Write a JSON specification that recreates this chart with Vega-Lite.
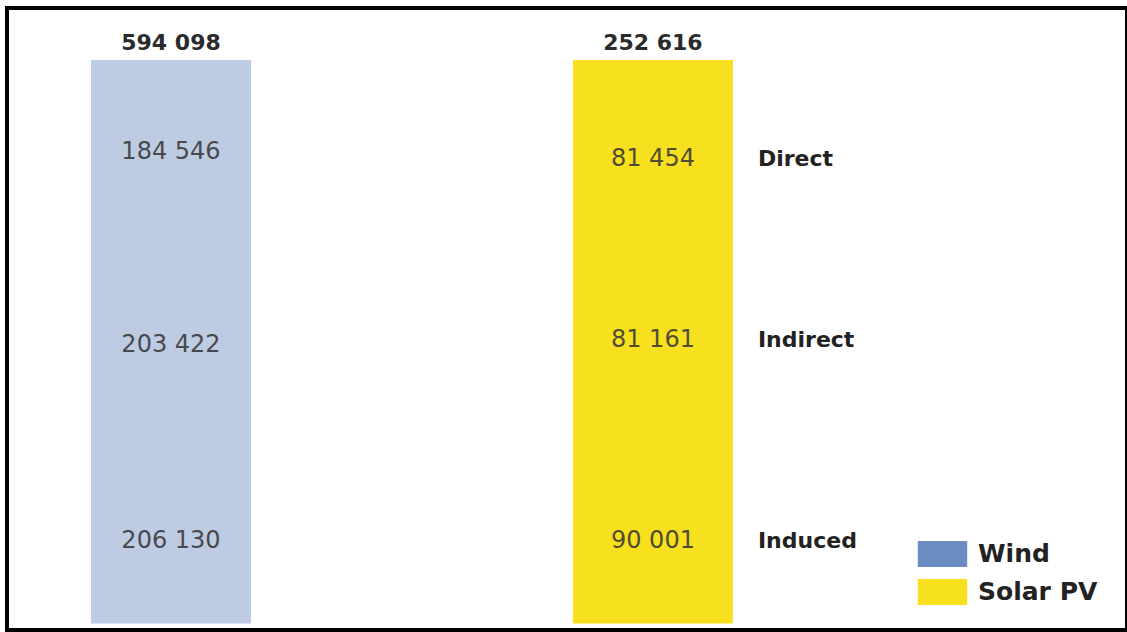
{
  "$schema": "https://vega.github.io/schema/vega-lite/v6.json",
  "width": 1120,
  "height": 622,
  "autosize": "none",
  "padding": {"left": 7, "top": 8, "right": 0, "bottom": 2},
  "background": "white",
  "config": {
    "view": {"stroke": "#000", "strokeWidth": 4},
    "font": "DejaVu Sans"
  },
  "data": {
    "values": [
      {"source": "Wind", "type": "Direct", "jobs": 184546},
      {"source": "Wind", "type": "Indirect", "jobs": 203422},
      {"source": "Wind", "type": "Induced", "jobs": 206130},
      {"source": "Solar PV", "type": "Direct", "jobs": 81454},
      {"source": "Solar PV", "type": "Indirect", "jobs": 81161},
      {"source": "Solar PV", "type": "Induced", "jobs": 90001}
    ]
  },
  "encoding": {
    "x": {
      "field": "source",
      "type": "nominal",
      "sort": ["Wind", "Solar PV"],
      "axis": null,
      "scale": {"paddingInner": 0.668, "paddingOuter": 0.496, "align": 0.1757}
    }
  },
  "layer": [
    {
      "transform": [
        {"aggregate": [{"op": "sum", "field": "jobs", "as": "total"}], "groupby": ["source"]},
        {"stack": "total", "groupby": ["source"], "offset": "normalize", "as": ["b0", "b1"]}
      ],
      "mark": {"type": "bar"},
      "encoding": {
        "y": {
          "field": "b0",
          "type": "quantitative",
          "axis": null,
          "scale": {"domain": [-0.0115, 1.0923], "nice": false, "zero": false}
        },
        "y2": {"field": "b1"},
        "color": {
          "field": "source",
          "type": "nominal",
          "scale": {"domain": ["Wind", "Solar PV"], "range": ["#6b8cc0", "#f7e11e"]},
          "legend": {
            "title": null,
            "orient": "none",
            "legendX": 922.5,
            "legendY": 533,
            "padding": 0,
            "symbolType": "M-1.9,-1H1.9V1H-1.9Z",
            "symbolSize": 676,
            "symbolStrokeWidth": 0,
            "labelOffset": 22.5,
            "rowPadding": 12,
            "labelFont": "DejaVu Sans",
            "labelFontWeight": "bold",
            "labelFontSize": 25,
            "labelColor": "#222"
          }
        },
        "opacity": {"condition": {"test": "datum.source === 'Wind'", "value": 0.44}, "value": 1}
      }
    },
    {
      "transform": [
        {"stack": "jobs", "groupby": ["source"], "sort": [{"field": "type", "order": "descending"}], "offset": "normalize", "as": ["y0", "y1"]},
        {"calculate": "replace(format(datum.jobs, ',d'), ',', ' ')", "as": "jobs_label"}
      ],
      "mark": {"type": "text", "baseline": "middle", "align": "center", "dy": -83, "fontSize": 24, "fill": "#333", "opacity": 0.85},
      "encoding": {
        "y": {"field": "y0", "type": "quantitative"},
        "text": {"field": "jobs_label", "type": "nominal"}
      }
    },
    {
      "transform": [
        {"filter": "datum.source === 'Solar PV'"},
        {"stack": "jobs", "groupby": ["source"], "sort": [{"field": "type", "order": "descending"}], "offset": "normalize", "as": ["y0", "y1"]}
      ],
      "mark": {"type": "text", "baseline": "middle", "align": "left", "dx": 105, "dy": -83, "fontSize": 22, "fontWeight": "bold", "fill": "#222"},
      "encoding": {
        "y": {"field": "y0", "type": "quantitative"},
        "text": {"field": "type", "type": "nominal"}
      }
    },
    {
      "transform": [
        {"aggregate": [{"op": "sum", "field": "jobs", "as": "total"}], "groupby": ["source"]},
        {"calculate": "replace(format(datum.total, ',d'), ',', ' ')", "as": "total_label"}
      ],
      "mark": {"type": "text", "baseline": "middle", "align": "center", "dy": -17.5, "fontSize": 22, "fontWeight": "bold", "fill": "#2b2b2b"},
      "encoding": {
        "y": {"datum": 1, "type": "quantitative"},
        "text": {"field": "total_label", "type": "nominal"}
      }
    }
  ]
}
